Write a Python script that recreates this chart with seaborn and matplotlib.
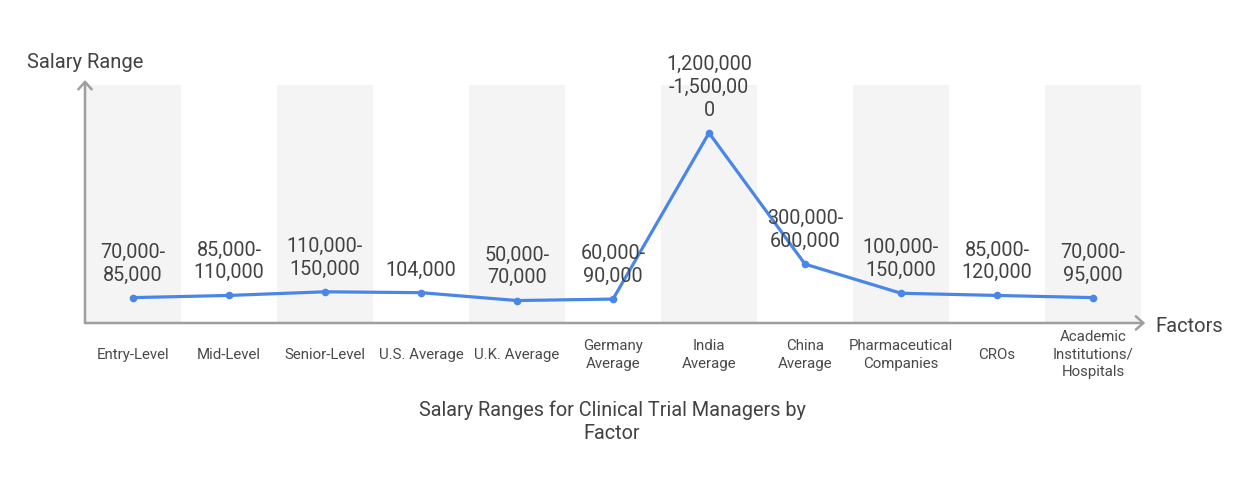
import matplotlib
matplotlib.use("Agg")
import matplotlib.pyplot as plt
import seaborn as sns
import pandas as pd

categories = ["Entry-Level", "Mid-Level", "Senior-Level", "U.S. Average", "U.K. Average",
              "Germany\nAverage", "India\nAverage", "China\nAverage", "Pharmaceutical\nCompanies",
              "CROs", "Academic\nInstitutions/\nHospitals"]
values = [70000, 85000, 110000, 104000, 50000, 60000, 1200000, 300000, 100000, 85000, 70000]
value_labels = ["70,000-\n85,000", "85,000-\n110,000", "110,000-\n150,000", "104,000",
                "50,000-\n70,000", "60,000-\n90,000", "1,200,000\n-1,500,00\n0",
                "300,000-\n600,000", "100,000-\n150,000", "85,000-\n120,000", "70,000-\n95,000"]
title = "Salary Ranges for Clinical Trial Managers by\nFactor"
x_label = "Factors"
y_label = "Salary Range"

sns.set_theme(style="white")
plt.rcParams['font.family'] = ['Roboto', 'DejaVu Sans']

df = pd.DataFrame({"idx": list(range(len(categories))), "value": values})

fig = plt.figure(figsize=(12.5, 4.95), dpi=100)
ax = fig.add_axes([0.068, 0.3475, 0.8448, 0.4909])

line_color = "#4a86e8"
axis_color = "#9e9e9e"
text_color = "#424242"

n = len(categories)
ax.set_xlim(-0.5, n - 0.5)
ax.set_ylim(-104000, 1563000)

for i in range(0, n, 2):
    ax.axvspan(i - 0.5, i + 0.5, ymin=0, ymax=0.979, color="#f4f4f4", zorder=0, lw=0)

sns.lineplot(data=df, x="idx", y="value", ax=ax, color=line_color, linewidth=2.3,
             marker="o", markersize=5.5, markeredgewidth=0, sort=False, zorder=3)

for i, (v, lab) in enumerate(zip(values, value_labels)):
    ax.annotate(lab, xy=(i, v), xytext=(0, 9.5), textcoords="offset points",
                ha="center", va="bottom", fontsize=14.2, color=text_color,
                linespacing=1.25, zorder=4)

for s in ax.spines.values():
    s.set_visible(False)

ax.annotate("", xy=(1.004, 0), xytext=(0, 0), xycoords="axes fraction",
            arrowprops=dict(arrowstyle="->,head_length=0.45,head_width=0.4",
                            color=axis_color, lw=1.8, shrinkA=0, shrinkB=0), zorder=5)
ax.annotate("", xy=(0, 1.0), xytext=(0, 0), xycoords="axes fraction",
            arrowprops=dict(arrowstyle="->,head_length=0.45,head_width=0.4",
                            color=axis_color, lw=1.8, shrinkA=0, shrinkB=0), zorder=5)

ax.set_xticks(range(n))
ax.set_xticklabels(categories, fontsize=10.8, color="#4a4a4a", linespacing=1.32)
for t in ax.get_xticklabels():
    t.set_verticalalignment("center")
ax.tick_params(axis="x", length=0, pad=23)
ax.set_yticks([])
ax.set_xlabel("")
ax.set_ylabel("")

fig.text(1155 / 1250, 1 - 327 / 495, x_label, ha="left", va="center", fontsize=14.5, color=text_color)
fig.text(27 / 1250, 1 - 63 / 495, y_label, ha="left", va="center", fontsize=14.5, color=text_color)
fig.text(612 / 1250, 1 - 422 / 495, title, ha="center", va="center", fontsize=14.3,
         color=text_color, linespacing=1.25)

fig.savefig("out.png", dpi=100, facecolor="white")
